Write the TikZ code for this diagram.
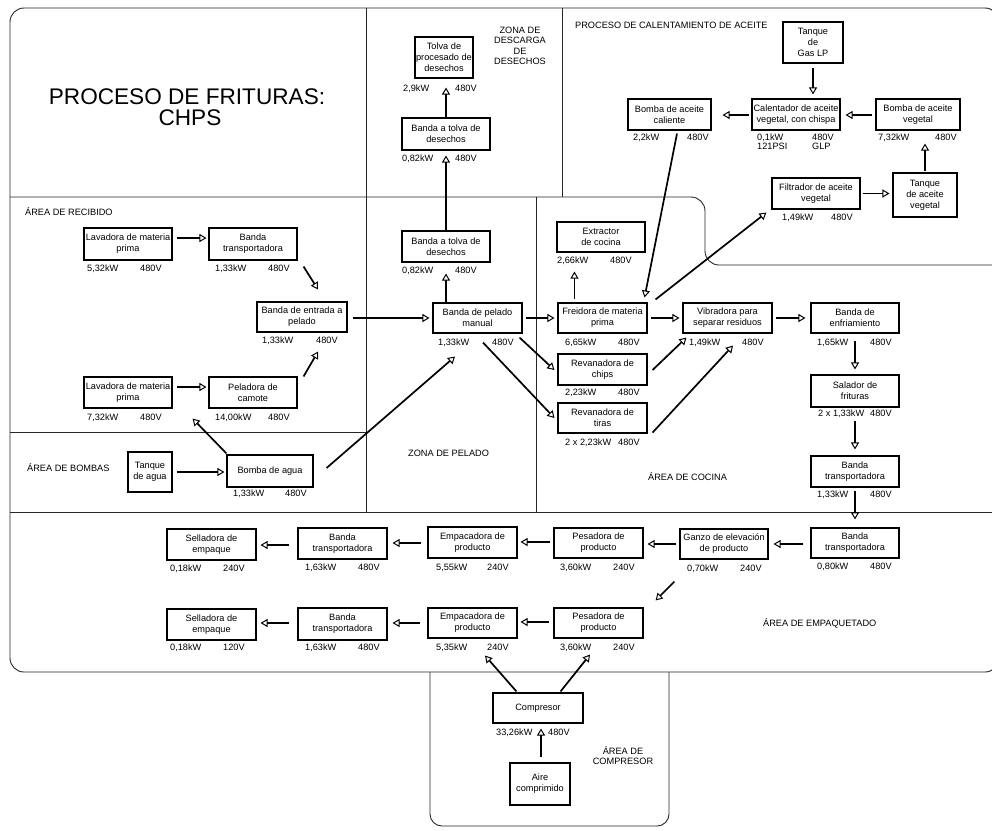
\documentclass[tikz,border=0pt]{standalone}
\usepackage{fontspec}
\setmainfont{Liberation Sans}
\usetikzlibrary{arrows.meta,calc}
\newcommand\boxfont{\fontsize{9.2}{11}\selectfont}
% equipment box: name, centre x, centre y, width, height, text
\newcommand\bx[6]{\node[box, minimum width=#4pt, minimum height=#5pt] (#1) at (#2,#3) {#6};}
% rating label under a box: name, left x, text middle y, text
\newcommand\spec[4]{\node[spec] (#1) at (#2,#3+3.3) {#4};}
\begin{document}
\begin{tikzpicture}[x=1pt,y=-1pt,
  frame/.style={line width=0.9pt, draw=black!85},
  box/.style={draw, line width=1.1pt, inner sep=0pt, align=center, font=\boxfont},
  spec/.style={inner sep=0pt, anchor=base west, font=\boxfont},
  area/.style={inner sep=0pt, anchor=base west, font=\boxfont},
  flow/.style={line width=1.7pt, -{Triangle[open, length=7pt, width=8pt, line width=1pt]}},
]
\useasboundingbox (0,0) rectangle (992,830);
\fill[white] (0,0) rectangle (992,830);

% ---- plant layout ----
\draw[frame, rounded corners=14] (10,8) rectangle (999,672);
\draw[frame, rounded corners=14] (10,197) -- (705,197) -- (705,265) -- (1010,265);
\draw[frame] (366,8) -- (366,512);
\draw[frame] (562,8) -- (562,197);
\draw[frame] (536,197) -- (536,512);
\draw[frame] (10,432) -- (366,432);
\draw[frame] (10,512) -- (999,512);
\draw[frame, rounded corners=12] (430,672) -- (430,826) -- (669,826) -- (669,672);

% ---- titles and area names ----
\node[font=\fontsize{22.6}{24}\selectfont, anchor=base, inner sep=0pt] (title-a) at (187,104) {PROCESO DE FRITURAS:};
\node[font=\fontsize{22.6}{24}\selectfont, anchor=base, inner sep=0pt] (title-b) at (190,125) {CHPS};
\node[area] (lbl-recibido) at (25,215.3) {ÁREA DE RECIBIDO};
\node[area] (lbl-bombas) at (27,471.3) {ÁREA DE BOMBAS};
\node[area] (lbl-pelado) at (408,456.3) {ZONA DE PELADO};
\node[area] (lbl-cocina) at (648,480.3) {ÁREA DE COCINA};
\node[area] (lbl-empaq) at (763,626.3) {ÁREA DE EMPAQUETADO};
\node[area] (lbl-aceite) at (575,28.3) {PROCESO DE CALENTAMIENTO DE ACEITE};
\node[inner sep=0pt, anchor=north, align=center, font=\fontsize{9.2}{10.4}\selectfont] (lbl-descarga) at (520,26.7) {ZONA DE\\DESCARGA\\DE\\DESECHOS};
\node[inner sep=0pt, anchor=base, font=\boxfont] (lbl-comp-a) at (623,754.3) {ÁREA DE};
\node[inner sep=0pt, anchor=base, font=\boxfont] (lbl-comp-b) at (623,764.3) {COMPRESOR};

% ---- equipment ----
\bx{tolva}{444}{57.5}{58}{41}{Tolva de\\procesado de\\desechos}
\bx{bandaT1}{446}{134}{88}{32}{Banda a tolva de\\desechos}
\bx{bandaT2}{446}{246.5}{88}{31}{Banda a tolva de\\desechos}
\bx{pelado}{477.5}{318}{89}{30}{Banda de pelado\\manual}
\bx{lavA}{128}{244}{88}{32}{Lavadora de materia\\prima}
\bx{bandaR}{253}{244}{88}{32}{Banda\\transportadora}
\bx{entrada}{302}{317}{90}{30}{Banda de entrada a\\pelado}
\bx{lavB}{128}{392.5}{88}{31}{Lavadora de materia\\prima}
\bx{peladora}{253}{392.5}{88}{31}{Peladora de\\camote}
\bx{tanqueA}{150}{472}{44}{40}{Tanque\\de agua}
\bx{bombaA}{270}{471}{86}{32}{Bomba de agua}
\bx{extractor}{601}{237}{88}{30}{Extractor\\de cocina}
\bx{freidora}{602.5}{318}{89}{30}{Freidora de materia\\prima}
\bx{vibradora}{727.5}{318}{89}{30}{Vibradora para\\separar residuos}
\bx{enfria}{855}{318}{88}{30}{Banda de\\enfriamiento}
\bx{salador}{855}{391}{88}{32}{Salador de\\frituras}
\bx{bandaC}{855}{471.5}{88}{31}{Banda\\transportadora}
\bx{chips}{602.5}{369.5}{89}{31}{Revanadora de\\chips}
\bx{tiras}{602.5}{418}{89}{30}{Revanadora de\\tiras}
\bx{gaslp}{813}{42.5}{60}{41}{Tanque\\de\\Gas LP}
\bx{calent}{796}{114.5}{88}{31}{Calentador de aceite\\vegetal, con chispa}
\bx{bombaCal}{669.5}{114.5}{83}{31}{Bomba de aceite\\caliente}
\bx{bombaVeg}{918}{114.5}{84}{31}{Bomba de aceite\\vegetal}
\bx{tanqueVeg}{925}{195}{64}{44}{Tanque\\de aceite\\vegetal}
\bx{filtro}{816}{193.5}{88}{31}{Filtrador de aceite\\vegetal}
\bx{sellA}{211.5}{544.5}{89}{31}{Selladora de\\empaque}
\bx{bandaEA}{342.5}{543.5}{89}{31}{Banda\\transportadora}
\bx{empA}{472.5}{542.5}{89}{31}{Empacadora de\\producto}
\bx{pesA}{598.5}{543}{89}{30}{Pesadora de\\producto}
\bx{ganzo}{724}{544}{88}{30}{Ganzo de elevación\\de producto}
\bx{bandaE0}{855}{543}{88}{30}{Banda\\transportadora}
\bx{sellB}{211.5}{624.5}{89}{31}{Selladora de\\empaque}
\bx{bandaEB}{342.5}{624}{89}{32}{Banda\\transportadora}
\bx{empB}{472.5}{623}{89}{30}{Empacadora de\\producto}
\bx{pesB}{598.5}{623}{89}{30}{Pesadora de\\producto}
\bx{compresor}{538}{708}{90}{30}{Compresor}
\bx{aire}{540}{784}{60}{42}{Aire\\comprimido}

% ---- ratings ----
\spec{tolva-kw}{403}{88}{2,9kW} \spec{tolva-v}{455}{88}{480V}
\spec{bandaT1-kw}{402}{158}{0,82kW} \spec{bandaT1-v}{455}{158}{480V}
\spec{bandaT2-kw}{402}{270}{0,82kW} \spec{bandaT2-v}{455}{270}{480V}
\spec{pelado-kw}{438}{342}{1,33kW} \spec{pelado-v}{492}{342}{480V}
\spec{lavA-kw}{87}{268}{5,32kW} \spec{lavA-v}{140}{268}{480V}
\spec{bandaR-kw}{215}{268}{1,33kW} \spec{bandaR-v}{268}{268}{480V}
\spec{entrada-kw}{262}{340}{1,33kW} \spec{entrada-v}{316}{340}{480V}
\spec{lavB-kw}{87}{417}{7,32kW} \spec{lavB-v}{140}{417}{480V}
\spec{peladora-kw}{215}{417}{14,00kW} \spec{peladora-v}{268}{417}{480V}
\spec{bombaA-kw}{233}{493}{1,33kW} \spec{bombaA-v}{285}{493}{480V}
\spec{extractor-kw}{557}{260}{2,66kW} \spec{extractor-v}{610}{260}{480V}
\spec{freidora-kw}{565}{342}{6,65kW} \spec{freidora-v}{618}{342}{480V}
\spec{vibradora-kw}{689}{342}{1,49kW} \spec{vibradora-v}{742}{342}{480V}
\spec{enfria-kw}{817}{342}{1,65kW} \spec{enfria-v}{870}{342}{480V}
\spec{salador-kw}{818}{413}{2 x 1,33kW} \spec{salador-v}{870}{413}{480V}
\spec{bandaC-kw}{817}{494}{1,33kW} \spec{bandaC-v}{870}{494}{480V}
\spec{chips-kw}{565}{392}{2,23kW} \spec{chips-v}{618}{392}{480V}
\spec{tiras-kw}{565}{442}{2 x 2,23kW} \spec{tiras-v}{618}{442}{480V}
\spec{calent-kw}{757}{137}{0,1kW} \spec{calent-v}{812}{137}{480V}
\spec{calent-psi}{757}{146}{121PSI} \spec{calent-glp}{812}{146}{GLP}
\spec{bombaCal-kw}{633}{137}{2,2kW} \spec{bombaCal-v}{687}{137}{480V}
\spec{bombaVeg-kw}{878}{137}{7,32kW} \spec{bombaVeg-v}{935}{137}{480V}
\spec{filtro-kw}{782}{217}{1,49kW} \spec{filtro-v}{831}{217}{480V}
\spec{sellA-kw}{170}{568}{0,18kW} \spec{sellA-v}{223}{568}{240V}
\spec{bandaEA-kw}{305}{567}{1,63kW} \spec{bandaEA-v}{358}{567}{480V}
\spec{empA-kw}{436}{567}{5,55kW} \spec{empA-v}{487}{567}{240V}
\spec{pesA-kw}{560}{567}{3,60kW} \spec{pesA-v}{613}{567}{240V}
\spec{ganzo-kw}{687}{568}{0,70kW} \spec{ganzo-v}{740}{568}{240V}
\spec{bandaE0-kw}{817}{566}{0,80kW} \spec{bandaE0-v}{870}{566}{480V}
\spec{sellB-kw}{170}{647}{0,18kW} \spec{sellB-v}{223}{647}{120V}
\spec{bandaEB-kw}{305}{647}{1,63kW} \spec{bandaEB-v}{358}{647}{480V}
\spec{empB-kw}{436}{647}{5,35kW} \spec{empB-v}{487}{647}{240V}
\spec{pesB-kw}{560}{647}{3,60kW} \spec{pesB-v}{613}{647}{240V}
\spec{compresor-kw}{496}{732}{33,26kW} \spec{compresor-v}{548}{732}{480V}

% ---- material flow ----
\draw[flow] ($(lavA.east)+(4,-6)$) -- ($(bandaR.west)+(-2,-6)$);
\draw[flow] ($(bandaR.south east)+(6,6)$) -- ($(entrada.north)+(16,-12)$);
\draw[flow] ($(lavB.east)+(4,-5.5)$) -- ($(peladora.west)+(-2,-5.5)$);
\draw[flow] ($(peladora.north east)+(6,0)$) -- ($(entrada.south)+(16,19)$);
\draw[flow] ($(tanqueA.east)+(4,0)$) -- ($(bombaA.west)+(-2,1)$);
\draw[flow] ($(bombaA.north west)+(0,-1)$) -- ($(lavB.south east)+(20,10)$);
\draw[flow] ($(bombaA.east)+(13,-3)$) -- ($(pelado.south)+(-22.5,23)$);
\draw[flow] ($(entrada.east)+(5,1)$) -- ($(pelado.west)+(-3,0)$);
\draw[flow] ($(pelado.north)+(-31.5,0)$) -- ($(bandaT2.south)+(0,11)$);
\draw[flow] (bandaT2.north) -- ($(bandaT1.south)+(0,5)$);
\draw[flow] (bandaT1.north) -- ($(tolva.south)+(2,9)$);
\draw[flow] ($(pelado.east)+(3,0)$) -- ($(freidora.west)+(-3,0)$);
\draw[flow] ($(pelado.south east)+(-3,4)$) -- ($(chips.west)+(-3,0.5)$);
\draw[flow] ($(pelado.south)+(5.5,9)$) -- ($(tiras.west)+(-3,0)$);
\draw[flow] ($(freidora.north west)+(17,-3)$) -- ($(extractor.south west)+(18,19)$);
\draw[flow] ($(bombaCal.south)+(7.5,3)$) -- ($(freidora.north east)+(-3,-5)$);
\draw[flow] ($(freidora.north east)+(8,-3)$) -- ($(filtro.south west)+(-5,3)$);
\draw[flow] ($(freidora.east)+(3,0)$) -- ($(vibradora.west)+(-3,0)$);
\draw[flow] ($(chips.east)+(5,0.5)$) -- ($(vibradora.south west)+(4,4)$);
\draw[flow] ($(tiras.south east)+(5,-1)$) -- ($(vibradora.south)+(5.5,12)$);
\draw[flow] ($(vibradora.east)+(3,0)$) -- ($(enfria.west)+(-5,0)$);
\draw[flow] ($(enfria.south)+(0,7)$) -- ($(salador.north)+(0,-5)$);
\draw[flow] ($(salador.south)+(0,13)$) -- ($(bandaC.north)+(0,-6)$);
\draw[flow] ($(bandaC.south)+(0,3)$) -- ($(bandaE0.north)+(0,-8)$);
\draw[flow] ($(bandaE0.west)+(-7,1)$) -- ($(ganzo.east)+(5,0)$);
\draw[flow] ($(ganzo.west)+(-3,0)$) -- ($(pesA.east)+(4,1)$);
\draw[flow] ($(pesA.west)+(-3,-1)$) -- ($(empA.east)+(3,-0.5)$);
\draw[flow] ($(empA.west)+(-6,0.5)$) -- ($(bandaEA.east)+(5,-0.5)$);
\draw[flow] ($(bandaEA.west)+(-8,1.5)$) -- ($(sellA.east)+(4,0.5)$);
\draw[flow] ($(ganzo.south west)+(-5,22)$) -- ($(pesB.north east)+(12,-7)$);
\draw[flow] ($(pesB.west)+(-4,-1)$) -- ($(empB.east)+(3,-1)$);
\draw[flow] ($(empB.west)+(-7,0)$) -- ($(bandaEB.east)+(5,-1)$);
\draw[flow] ($(bandaEB.west)+(-8,-1)$) -- ($(sellB.east)+(4,-1.5)$);
\draw[flow] ($(compresor.north west)+(24,-1)$) -- ($(empB.south)+(12.5,17)$);
\draw[flow] ($(compresor.north east)+(-23,-1)$) -- ($(pesB.south)+(-8.5,16)$);
\draw[flow] ($(aire.north)+(1,-5)$) -- ($(compresor.south)+(3,5)$);
% oil heating loop
\draw[flow] ($(gaslp.south)+(0,4)$) -- ($(calent.north)+(17,-4)$);
\draw[flow] ($(calent.west)+(-2,0.5)$) -- ($(bombaCal.east)+(11,0.5)$);
\draw[flow] ($(bombaVeg.west)+(-3,0.5)$) -- ($(calent.east)+(5,0.5)$);
\draw[flow] ($(tanqueVeg.north)+(0,-1)$) -- ($(bombaVeg.south)+(7,13)$);
\draw[flow] ($(filtro.east)+(2,0)$) -- ($(tanqueVeg.west)+(-3,-1.5)$);
\end{tikzpicture}
\end{document}
